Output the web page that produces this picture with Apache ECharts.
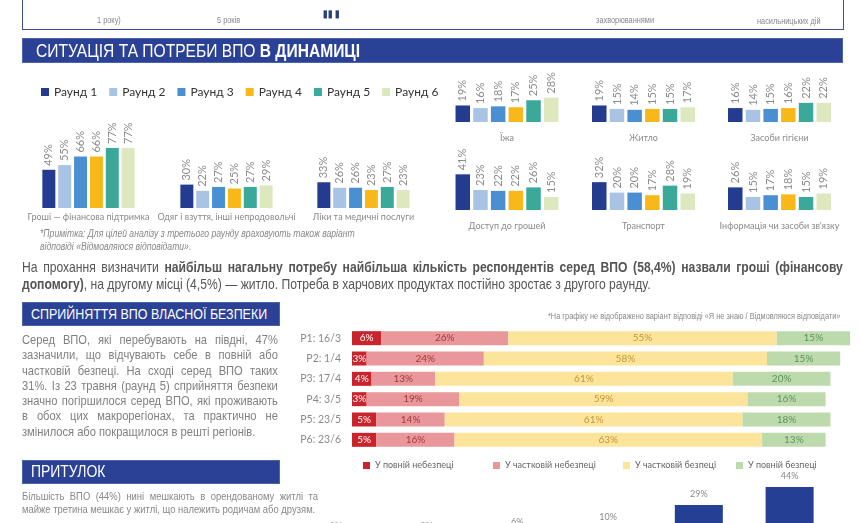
<!DOCTYPE html>
<html>
<head>
<meta charset="utf-8">
<script src="https://cdn.jsdelivr.net/npm/echarts@6/dist/echarts.min.js"></script>
<style>
  body { margin: 0; background: #fff; }
  #wrap { position: relative; width: 860px; height: 523px; overflow: hidden; background: #fff; }
  /* полотно вище за вікно: нижній графік обрізано, як в оригіналі */
  #chart { position: absolute; left: 0; top: 0; width: 860px; height: 560px; }
  .t { position: absolute; font-family: 'Liberation Sans', Arial, sans-serif; color: #666; white-space: nowrap; z-index: 2;
       transform: scaleX(0.82); transform-origin: 0 0; }
  .banner { position: absolute; background: #2a4196; color: #fff; z-index: 2; box-sizing: border-box; border: 1px solid #4d63ad;
            font-family: 'Liberation Sans', Arial, sans-serif; white-space: nowrap; }
  .banner span { display: inline-block; transform: scaleX(0.82); transform-origin: 0 0; }
  .jl { text-align: justify; text-align-last: justify; }
  .frame { position: absolute; left: 22px; top: -10px; width: 822px; height: 40px; box-sizing: border-box;
           border: 1.5px solid #3d4f8c; border-top: none; z-index: 1; }
</style>
</head>
<body>
<div id="wrap">
  <div id="chart"></div>

  <!-- обрізаний блок зверху -->
  <div class="frame"></div>
  <div class="t" style="left:97px;top:15px;font-size:9px;color:#888;">1 року)</div>
  <div class="t" style="left:217px;top:15px;font-size:9px;color:#888;">5 років</div>
  <div class="t" style="left:323px;top:8px;font-size:10px;color:#2a3f7a;font-weight:bold;">▮▮ ▮</div>
  <div class="t" style="left:596px;top:15px;font-size:9px;color:#888;">захворюваннями</div>
  <div class="t" style="left:757px;top:16px;font-size:9px;color:#888;">насильницьких дій</div>

  <div class="banner" style="left:22px;top:38px;width:821px;height:25px;font-size:19px;line-height:23px;padding-left:13px;">
    <span>СИТУАЦІЯ ТА ПОТРЕБИ ВПО <b>В ДИНАМИЦІ</b></span>
  </div>

  <div class="t" style="left:40px;top:227px;font-size:10.5px;font-style:italic;color:#888;line-height:12.5px;">
    *Примітка: Для цілей аналізу з третього раунду враховують також варіант<br>відповіді «Відмовляюся відповідати».
  </div>

  <div class="t jl" style="left:22px;top:259px;width:1001px;font-size:14.8px;color:#555;">
    На прохання визначити <b>найбільш нагальну потребу найбільша кількість респондентів серед ВПО (58,4%) назвали гроші (фінансову</b>
  </div>
  <div class="t" style="left:22px;top:276px;font-size:14.8px;color:#555;">
    <b>допомогу)</b>, на другому місці (4,5%) — житло. Потреба в харчових продуктах постійно зростає з другого раунду.
  </div>

  <div class="banner" style="left:22px;top:302px;width:258px;height:24px;font-size:15.2px;line-height:22px;padding-left:8px;">
    <span>СПРИЙНЯТТЯ ВПО ВЛАСНОЇ БЕЗПЕКИ</span>
  </div>
  <div class="t" style="left:22px;top:332px;width:312px;font-size:13.6px;line-height:15.3px;color:#808080;">
    <div class="jl">Серед ВПО, які перебувають на півдні, 47%</div>
    <div class="jl">зазначили, що відчувають себе в повній або</div>
    <div class="jl">частковій безпеці. На сході серед ВПО таких</div>
    <div class="jl">31%. Із 23 травня (раунд 5) сприйняття безпеки</div>
    <div class="jl">значно погіршилося серед ВПО, які проживають</div>
    <div class="jl">в обох цих макрорегіонах, та практично не</div>
    <div>змінилося або покращилося в решті регіонів.</div>
  </div>
  <div class="t" style="left:548px;top:311px;font-size:9px;color:#888;">*На графіку не відображено варіант відповіді «Я не знаю / Відмовляюся відповідати»</div>

  <div class="banner" style="left:22px;top:460px;width:258px;height:24px;font-size:17px;line-height:22px;padding-left:8px;">
    <span>ПРИТУЛОК</span>
  </div>
  <div class="t" style="left:22px;top:490px;width:361px;font-size:11.5px;line-height:13px;color:#888;">
    <div class="jl">Більшість ВПО (44%) нині мешкають в орендованому житлі та</div>
    <div>майже третина мешкає у житлі, що належить родичам або друзям.</div>
  </div>
</div>

<script>
// ---- потреби за раундами ----
const rounds = ['Раунд 1', 'Раунд 2', 'Раунд 3', 'Раунд 4', 'Раунд 5', 'Раунд 6']
const needs = [
  'Гроші — фінансова підтримка',
  'Одяг і взуття, інші непродовольчі',
  'Ліки та медичні послуги',
  'Їжа',
  'Житло',
  'Засоби гігієни',
  'Доступ до грошей',
  'Транспорт',
  'Інформація чи засоби зв\'язку',
]
const round1 = [49, 30, 33, 19, 19, 16, 41, 32, 26]
const round2 = [55, 22, 26, 16, 15, 14, 23, 20, 15]
const round3 = [66, 27, 26, 18, 14, 15, 22, 20, 17]
const round4 = [66, 25, 23, 17, 15, 16, 22, 17, 18]
const round5 = [77, 27, 27, 25, 15, 22, 26, 28, 15]
const round6 = [77, 29, 23, 28, 17, 22, 15, 19, 19]
const roundValues = [round1, round2, round3, round4, round5, round6]

// ---- сприйняття безпеки ----
const periods = ['Р1: 16/3', 'Р2: 1/4', 'Р3: 17/4', 'Р4: 3/5', 'Р5: 23/5', 'Р6: 23/6']
const safetyNames = ['У повній небезпеці', 'У частковій небезпеці', 'У частковій безпеці', 'У повній безпеці']
const fullDanger = [6, 3, 4, 3, 5, 5]
const partialDanger = [26, 24, 13, 19, 14, 16]
const partialSafe = [55, 58, 61, 59, 61, 63]
const fullSafe = [15, 15, 20, 16, 18, 13]

// ---- притулок (нижня частина обрізана) ----
const shelterTypes = ['Колективний центр', 'Гуртожиток', 'Готель / хостел', 'Інше', 'Тимчасове житло',
  'Власне житло', 'Безкоштовно у знайомих', 'Житло родичів / друзів', 'Орендоване житло']
const shelterShare = [1, 1, 2, 3, 3, 6, 10, 29, 44]

const roundColors = ['#233c8f', '#a9c3e4', '#4b8fd3', '#f8b81a', '#3aa99a', '#dde8bf']
const safetyColors = ['#c9242c', '#e9979b', '#fde49b', '#bddaac']
const safetyLabel = ['#ffffff', '#a33a3a', '#c0983c', '#5e925e']
const numFont = 'Lato'

// розміщення малих графіків
const panels = [
  { left: 40, top: 130, width: 97, height: 78, max: 100, margin: 5, bw: 13 },
  { left: 178, top: 130, width: 97, height: 78, max: 100, margin: 5, bw: 13 },
  { left: 315, top: 130, width: 97, height: 78, max: 100, margin: 5, bw: 13 },
  { left: 455, top: 78.5, width: 104, height: 43.5, max: 50, margin: 12, bw: 14.5 },
  { left: 592, top: 78.5, width: 103, height: 43.5, max: 50, margin: 12, bw: 14.5 },
  { left: 728, top: 78.5, width: 103, height: 43.5, max: 50, margin: 12, bw: 14.5 },
  { left: 455, top: 166.5, width: 104, height: 43.5, max: 50, margin: 12, bw: 14.5 },
  { left: 592, top: 166.5, width: 103, height: 43.5, max: 50, margin: 12, bw: 14.5 },
  { left: 728, top: 166.5, width: 103, height: 43.5, max: 50, margin: 12, bw: 14.5 },
]

const grid = [], xAxis = [], yAxis = [], series = []

panels.forEach((p, i) => {
  grid.push({ left: p.left, top: p.top, width: p.width, height: p.height })
  xAxis.push({
    type: 'category', gridIndex: i, data: [needs[i]],
    axisLine: { show: false }, axisTick: { show: false },
    axisLabel: { margin: p.margin, fontSize: 9, color: '#8a8a8a', fontFamily: numFont },
  })
  yAxis.push({ type: 'value', gridIndex: i, min: 0, max: p.max, show: false })
  rounds.forEach((r, k) => {
    series.push({
      name: r, type: 'bar', xAxisIndex: i, yAxisIndex: i,
      data: [roundValues[k][i]],
      barWidth: p.bw, barGap: '22%',
      itemStyle: { color: roundColors[k] },
      label: {
        show: true, position: 'top', rotate: 90, align: 'left', verticalAlign: 'middle',
        distance: 4, formatter: '{c}%', fontSize: 11, color: '#8c8c8c', fontFamily: numFont,
      },
    })
  })
})

// безпека
const gs = grid.length
grid.push({ left: 352, top: 328, width: 498, height: 122 })
xAxis.push({ type: 'value', gridIndex: gs, min: 0, max: 102, show: false })
yAxis.push({
  type: 'category', gridIndex: gs, data: periods, inverse: true,
  axisLine: { show: false }, axisTick: { show: false },
  axisLabel: { margin: 11, fontSize: 10.5, color: '#8a8a8a', fontFamily: numFont },
})
;[fullDanger, partialDanger, partialSafe, fullSafe].forEach((vals, k) => {
  series.push({
    name: safetyNames[k], type: 'bar', stack: 'safety', xAxisIndex: gs, yAxisIndex: gs,
    data: vals, barWidth: 14,
    itemStyle: { color: safetyColors[k] },
    label: { show: true, position: 'inside', formatter: '{c}%', fontSize: 10, color: safetyLabel[k], fontFamily: numFont },
  })
})

// притулок
const gh = grid.length
grid.push({ left: 18, top: 487, width: 817, height: 53 })
xAxis.push({ type: 'category', gridIndex: gh, data: shelterTypes, show: false })
yAxis.push({ type: 'value', gridIndex: gh, min: 0, max: 44, show: false })
series.push({
  name: 'Притулок', type: 'bar', xAxisIndex: gh, yAxisIndex: gh,
  data: shelterShare, barWidth: 48,
  itemStyle: { color: '#253f94' },
  label: { show: true, position: 'top', distance: 6, formatter: '{c}%', fontSize: 9, color: '#8a8a8a', fontFamily: numFont },
})

const safetyLegendX = [358, 488, 618, 731]
const legend = [{
  data: rounds, left: 36, top: 81, icon: 'rect', itemWidth: 8, itemHeight: 8, itemGap: 12,
  textStyle: { fontSize: 12, color: '#333', fontFamily: numFont },
}]
safetyNames.forEach((n, k) => {
  legend.push({
    data: [n], left: safetyLegendX[k], top: 456, icon: 'rect', itemWidth: 7, itemHeight: 7, itemGap: 4,
    textStyle: { fontSize: 9, color: '#666', fontFamily: numFont },
  })
})

const myChart = echarts.init(document.getElementById('chart'))
myChart.setOption({
  animation: false,
  backgroundColor: '#fff',
  legend, grid, xAxis, yAxis, series,
})
</script>
</body>
</html>
